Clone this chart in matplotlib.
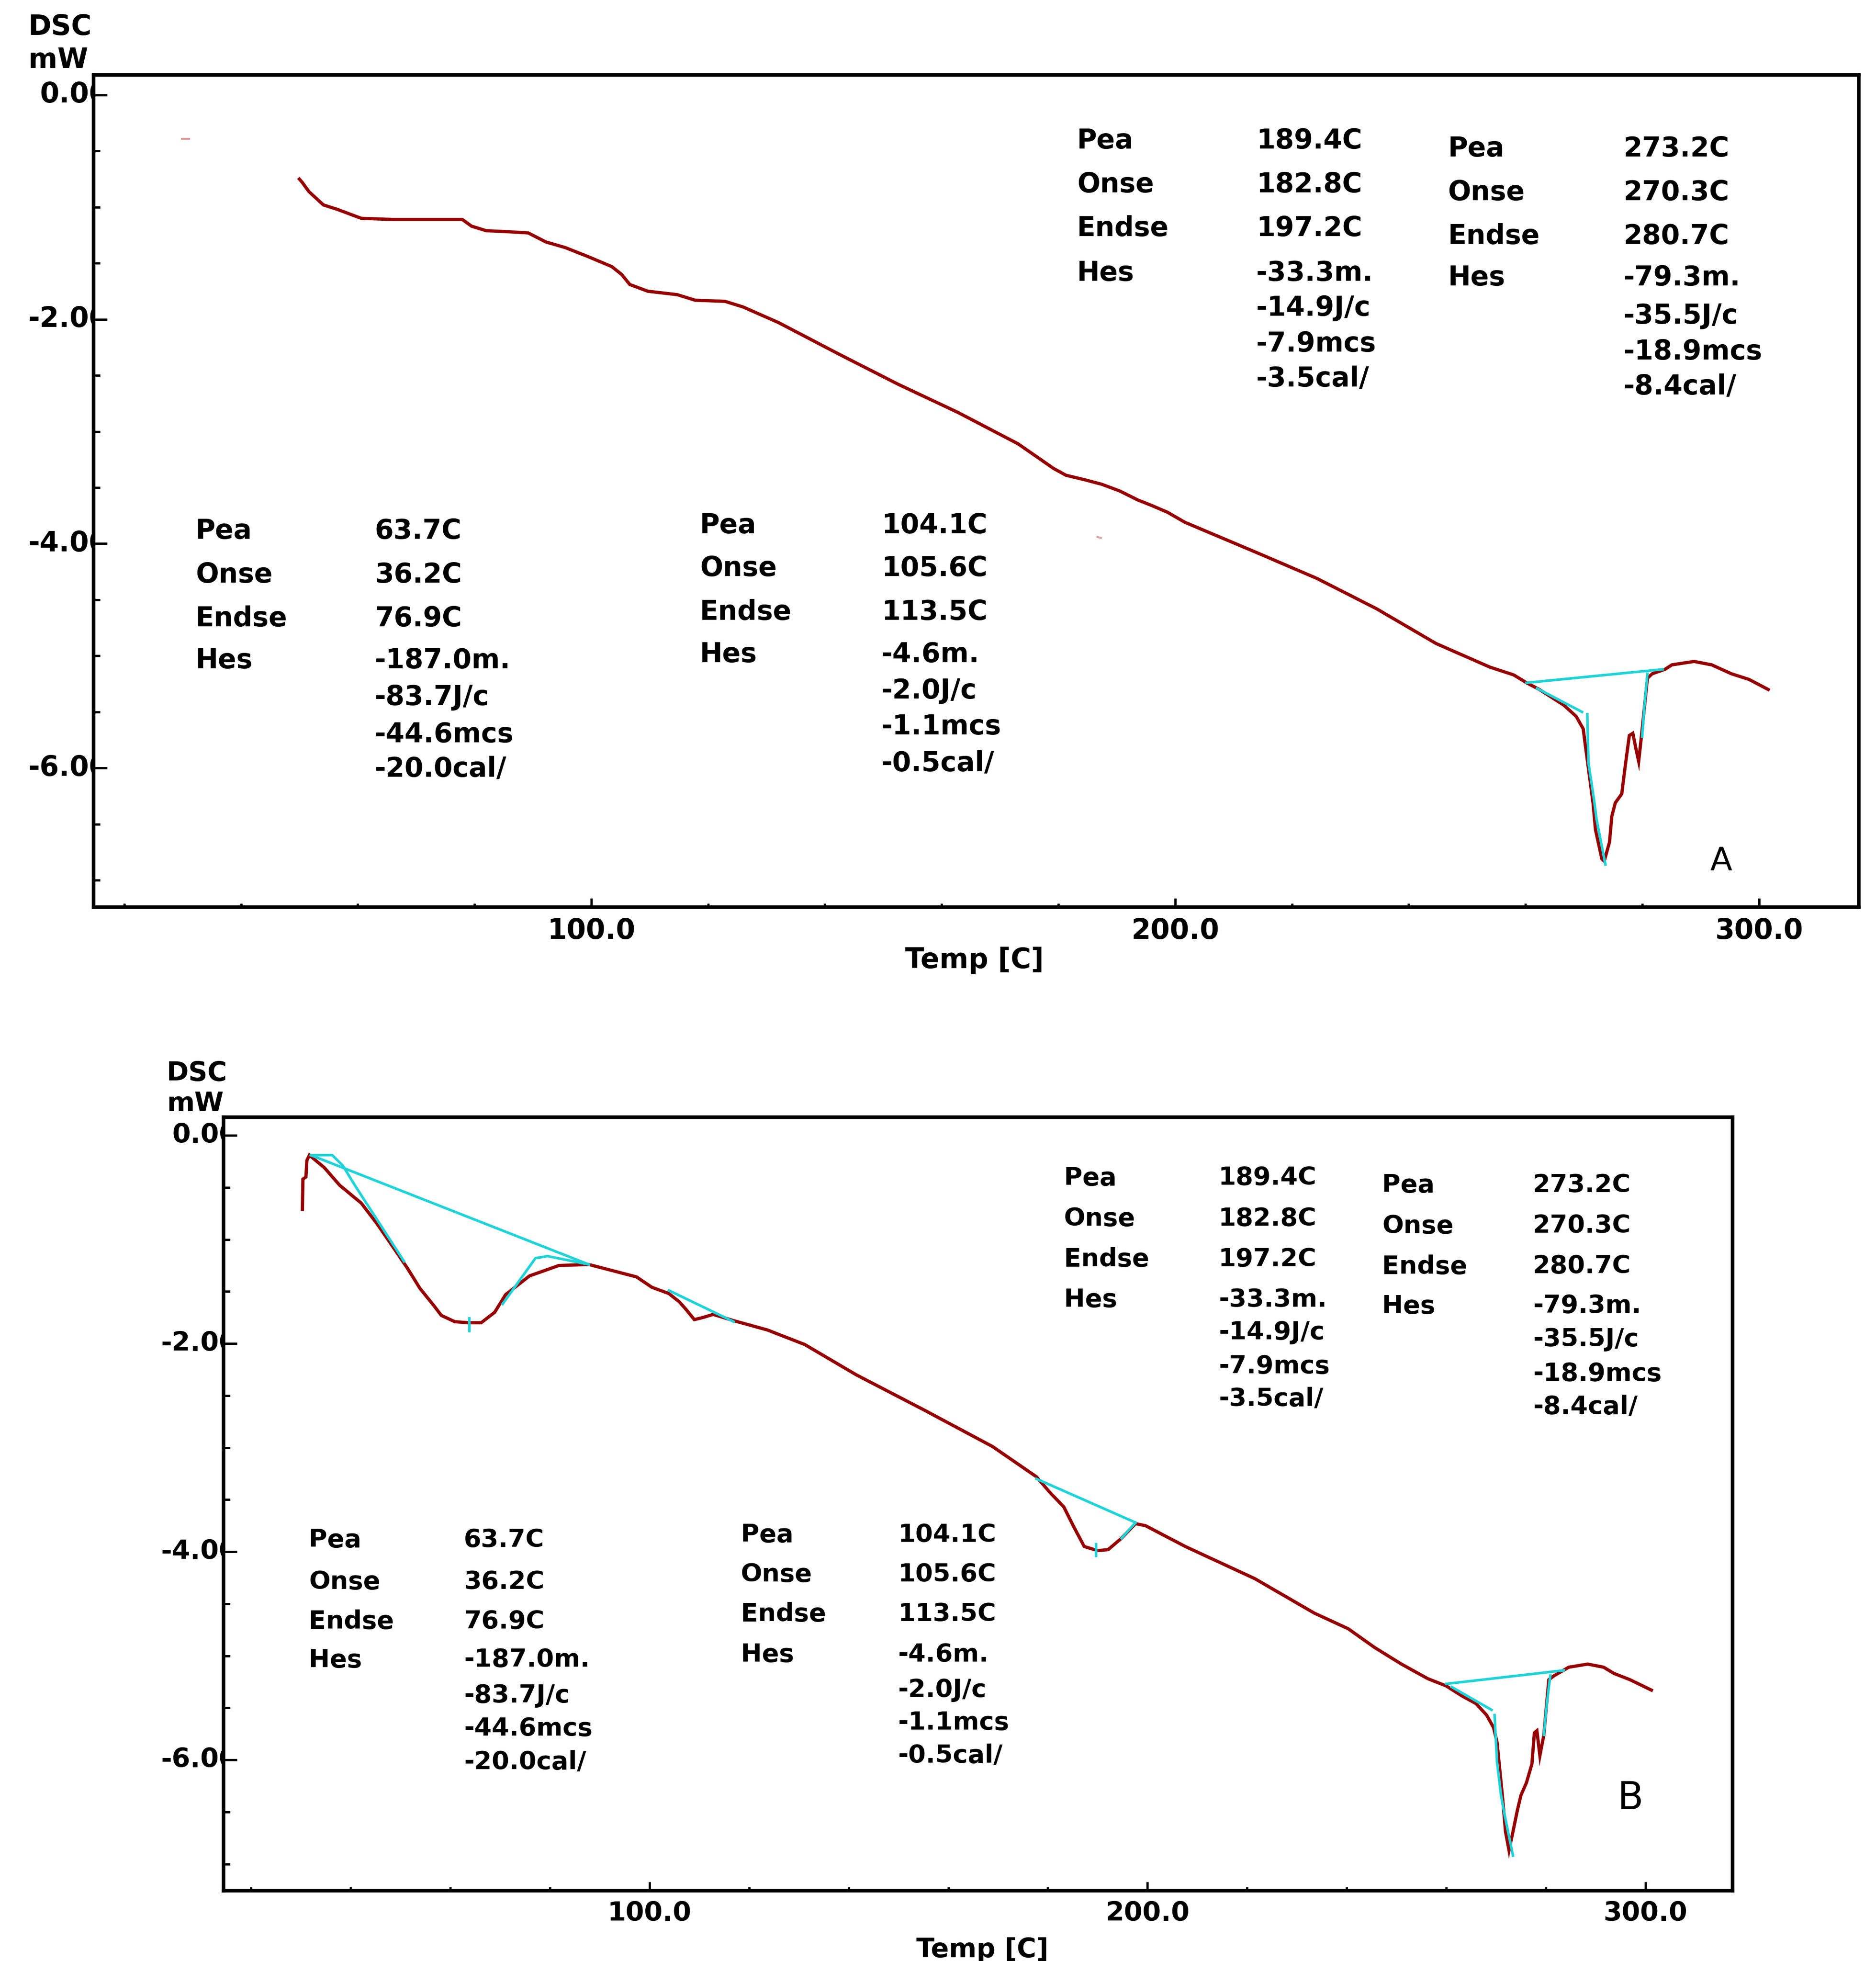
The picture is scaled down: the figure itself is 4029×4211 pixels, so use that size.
import matplotlib
matplotlib.use("Agg")
import matplotlib.pyplot as plt
from matplotlib.transforms import Bbox, TransformedBbox, blended_transform_factory, ScaledTranslation
from matplotlib.ticker import FixedLocator

# ---------------- data ----------------
# Panel A : DSC trace (Temp [C], mW)
A_T = [50.0, 50.5, 51.6, 54.1, 56.5, 60.6, 66.0, 72.0, 77.9, 79.5, 82.0, 86.0, 89.2, 92.2, 95.5,
       99.4, 103.5, 105.2, 106.6, 109.7, 114.7, 117.8, 122.9, 126.0, 132.1, 142.4, 152.6, 162.8,
       173.1, 179.2, 181.3, 184.5, 187.4, 190.5, 193.6, 196.0, 198.7, 201.7, 214.0, 224.3, 234.5,
       244.7, 253.9, 258.0, 260.2, 262.4, 266.6, 268.7, 269.9, 270.3, 271.6, 272.0, 273.1, 273.5,
       274.4, 274.8, 275.4, 276.5, 277.1, 277.8, 278.4, 278.9, 279.4, 279.8, 280.9, 281.7, 283.9,
       285.1, 288.9, 291.9, 295.3, 298.3, 301.6]
A_mW = [-0.75, -0.78, -0.86, -0.98, -1.02, -1.10, -1.11, -1.11, -1.11, -1.17, -1.21, -1.22, -1.23,
        -1.31, -1.36, -1.44, -1.53, -1.60, -1.69, -1.75, -1.78, -1.83, -1.84, -1.89, -2.03, -2.31,
        -2.58, -2.83, -3.11, -3.33, -3.39, -3.43, -3.47, -3.53, -3.61, -3.66, -3.72, -3.81, -4.08,
        -4.31, -4.58, -4.89, -5.10, -5.17, -5.24, -5.30, -5.44, -5.54, -5.65, -5.81, -6.32, -6.55,
        -6.81, -6.83, -6.66, -6.43, -6.31, -6.23, -5.98, -5.71, -5.69, -5.82, -5.94, -5.75, -5.20,
        -5.16, -5.12, -5.08, -5.05, -5.08, -5.16, -5.21, -5.30]

# Panel A : analysis (cyan) lines
A_base_T, A_base_mW = [260.2, 283.5], [-5.24, -5.12]
A_tan_T, A_tan_mW = [262.0, 269.7], [-5.29, -5.50]
A_lead_T, A_lead_mW = [270.6, 270.8, 271.8, 272.2, 273.7], [-5.52, -5.95, -6.30, -6.46, -6.86]
A_trail_T, A_trail_mW = [280.0, 280.4, 280.9], [-5.72, -5.44, -5.16]
A_stray1_T, A_stray1_mW = [29.9, 31.1], [-0.39, -0.39]
A_stray2_T, A_stray2_mW = [186.7, 187.3], [-3.94, -3.95]

# Panel B : DSC trace
B_T = [30.3, 30.4, 31.0, 31.2, 31.7, 34.7, 37.8, 42.1, 45.3, 48.6, 51.3, 53.9, 56.6, 58.2, 60.9,
       63.6, 66.2, 68.9, 71.1, 75.9, 81.8, 87.8, 97.4, 100.5, 103.9, 106.0, 107.3, 109.0, 110.7,
       112.8, 116.9, 123.7, 131.2, 141.5, 155.2, 168.9, 177.7, 180.4, 183.2, 185.3, 187.3, 190.0,
       192.1, 194.8, 197.6, 199.6, 207.6, 221.6, 233.5, 240.3, 245.6, 251.0, 256.3, 260.0, 263.3,
       266.0, 268.1, 269.5, 270.2, 271.3, 271.9, 272.6, 273.4, 274.3, 275.0, 276.1, 277.2, 277.7,
       278.2, 278.8, 279.6, 280.6, 281.7, 284.6, 288.4, 291.6, 293.7, 296.9, 301.2]
B_mW = [-0.71, -0.42, -0.40, -0.24, -0.19, -0.31, -0.48, -0.65, -0.85, -1.08, -1.27, -1.47, -1.63,
        -1.73, -1.79, -1.80, -1.80, -1.70, -1.53, -1.35, -1.25, -1.24, -1.36, -1.46, -1.52, -1.60,
        -1.67, -1.77, -1.75, -1.72, -1.78, -1.87, -2.01, -2.30, -2.64, -2.99, -3.28, -3.43, -3.57,
        -3.77, -3.95, -3.99, -3.98, -3.87, -3.73, -3.75, -3.95, -4.26, -4.59, -4.74, -4.92, -5.08,
        -5.22, -5.29, -5.39, -5.46, -5.57, -5.69, -5.83, -6.36, -6.69, -6.87, -6.69, -6.48, -6.34,
        -6.22, -6.04, -5.74, -5.72, -5.96, -5.76, -5.23, -5.19, -5.11, -5.08, -5.11, -5.17, -5.23,
        -5.33]

# Panel B : analysis (cyan) lines
B_p1_base_T, B_p1_base_mW = [32.0, 87.8], [-0.19, -1.24]
B_p1_lead_T, B_p1_lead_mW = [32.0, 36.3, 38.4, 41.1, 50.7], [-0.19, -0.19, -0.29, -0.50, -1.21]
B_p1_min_T, B_p1_min_mW = [63.8, 63.8], [-1.76, -1.88]
B_p1_trail_T, B_p1_trail_mW = [70.5, 77.1, 79.5, 87.8], [-1.62, -1.18, -1.16, -1.24]
B_p2_base_T, B_p2_base_mW = [103.9, 116.9], [-1.49, -1.79]
B_p3_base_T, B_p3_base_mW = [177.7, 197.6], [-3.30, -3.72]
B_p3_trail_T, B_p3_trail_mW = [194.8, 197.6], [-3.87, -3.72]
B_p3_min_T, B_p3_min_mW = [189.7, 189.7], [-3.93, -4.04]
B_p4_base_T, B_p4_base_mW = [260.0, 283.6], [-5.27, -5.14]
B_p4_tan_T, B_p4_tan_mW = [261.1, 269.1], [-5.30, -5.52]
B_p4_lead_T, B_p4_lead_mW = [269.7, 270.2, 271.0, 271.6, 273.4], [-5.57, -6.02, -6.34, -6.50, -6.92]
B_p4_trail_T, B_p4_trail_mW = [279.6, 280.2, 280.9], [-5.76, -5.46, -5.19]

# tick values / labels
x_major = [100.0, 200.0, 300.0]
x_major_labels = ["100.0", "200.0", "300.0"]
x_minor = [20, 40, 60, 80, 120, 140, 160, 180, 220, 240, 260, 280]
y_major = [0.0, -2.0, -4.0, -6.0]
y_major_labels = ["0.00", "-2.00", "-4.00", "-6.00"]
y_minor = [-0.5, -1.0, -1.5, -2.5, -3.0, -3.5, -4.5, -5.0, -5.5, -6.5, -7.0]

# peak annotation tables
row_labels = ["Pea", "Onse", "Endse", "Hes"]
peak1_vals = ["63.7C", "36.2C", "76.9C", "-187.0m.", "-83.7J/c", "-44.6mcs", "-20.0cal/"]
peak2_vals = ["104.1C", "105.6C", "113.5C", "-4.6m.", "-2.0J/c", "-1.1mcs", "-0.5cal/"]
peak3_vals = ["189.4C", "182.8C", "197.2C", "-33.3m.", "-14.9J/c", "-7.9mcs", "-3.5cal/"]
peak4_vals = ["273.2C", "270.3C", "280.7C", "-79.3m.", "-35.5J/c", "-18.9mcs", "-8.4cal/"]

# ---------------- figure ----------------
W, H = 4030, 4211
DPI = 100
fig = plt.figure(figsize=(W / DPI, H / DPI), dpi=DPI)
fig.patch.set_facecolor("white")

RED = "#960000"
CYAN = "#1fd3d8"
FONT = "DejaVu Sans"
WT = "bold"


def px_axes(l, t, r, b):
    return fig.add_axes([l / W, 1 - b / H, (r - l) / W, (b - t) / H])


def style_axes(ax, xlim, ylim, fs_tick, ylab_offset_pt):
    ax.set_xlim(*xlim)
    ax.set_ylim(*ylim)
    for s in ax.spines.values():
        s.set_linewidth(5.5)
        s.set_color("black")
    ax.xaxis.set_major_locator(FixedLocator(x_major))
    ax.xaxis.set_minor_locator(FixedLocator(x_minor))
    ax.yaxis.set_major_locator(FixedLocator(y_major))
    ax.yaxis.set_minor_locator(FixedLocator(y_minor))
    ax.set_xticklabels(x_major_labels, fontsize=fs_tick, family=FONT, fontweight=WT)
    ax.tick_params(axis="x", which="major", direction="in", length=14, width=3.5, pad=16,
                   top=False, bottom=True)
    ax.tick_params(axis="x", which="minor", direction="in", length=6, width=3.5,
                   top=False, bottom=True)
    ax.tick_params(axis="y", which="major", direction="in", length=21, width=3.5,
                   left=True, right=False, labelleft=False)
    ax.tick_params(axis="y", which="minor", direction="in", length=10, width=3.5,
                   left=True, right=False)
    # y tick labels whose last digit is hidden by the axis line
    clip = TransformedBbox(Bbox([[-5, -5], [0, 5]]), ax.transAxes)
    trans = blended_transform_factory(ax.transAxes, ax.transData) + \
        ScaledTranslation(ylab_offset_pt / 72, 0, fig.dpi_scale_trans)
    for v, s in zip(y_major, y_major_labels):
        t = fig.text(0, v, s, transform=trans, ha="right", va="center",
                     fontsize=fs_tick, family=FONT, fontweight=WT)
        t.set_clip_box(clip)
        t.set_clip_on(True)


def table(ax, x_lab, x_val, y_rows, y_extra, vals, fs):
    for lab, y in zip(row_labels, y_rows):
        ax.text(x_lab, y, lab, ha="left", va="center", fontsize=fs, family=FONT, fontweight=WT)
    ys = list(y_rows) + list(y_extra)
    for v, y in zip(vals, ys):
        ax.text(x_val, y, v, ha="left", va="center", fontsize=fs, family=FONT, fontweight=WT)


# ---------------- panel A ----------------
axA = px_axes(201, 161, 3992, 1948)
style_axes(axA, (14.75, 317.1), (-7.24, 0.178), 43, 23)
axA.plot(A_T, A_mW, color=RED, lw=5.0, solid_joinstyle="miter", zorder=3)
for tt, yy in [(A_base_T, A_base_mW), (A_tan_T, A_tan_mW), (A_lead_T, A_lead_mW),
               (A_trail_T, A_trail_mW)]:
    axA.plot(tt, yy, color=CYAN, lw=4.0, zorder=4)
axA.plot(A_stray1_T, A_stray1_mW, color="#d89090", lw=3, zorder=2)
axA.plot(A_stray2_T, A_stray2_mW, color="#e0a0a0", lw=3, zorder=2)

fsA = 42
table(axA, 32.2, 62.9, [-3.89, -4.28, -4.67, -5.04], [-5.37, -5.70, -6.01], peak1_vals, fsA)
table(axA, 118.6, 149.7, [-3.84, -4.22, -4.61, -4.99], [-5.31, -5.63, -5.96], peak2_vals, fsA)
table(axA, 183.2, 213.9, [-0.41, -0.80, -1.19, -1.59], [-1.90, -2.22, -2.53], peak3_vals, fsA)
table(axA, 246.7, 276.8, [-0.48, -0.87, -1.26, -1.63], [-1.97, -2.29, -2.60], peak4_vals, fsA)
axA.text(293.5, -6.83, "A", ha="center", va="center", fontsize=50, family=FONT)
axA.text(0.499, -0.064, "Temp [C]", transform=axA.transAxes, ha="center", va="center",
         fontsize=43, family=FONT, fontweight=WT)
fig.text(61 / W, 1 - 59 / H, "DSC", ha="left", va="center", fontsize=43, family=FONT,
         fontweight=WT)
fig.text(61 / W, 1 - 129 / H, "mW", ha="left", va="center", fontsize=43, family=FONT,
         fontweight=WT)

# ---------------- panel B ----------------
axB = px_axes(480, 2399, 3721, 4060)
style_axes(axB, (14.45, 317.5), (-7.257, 0.175), 41, 22)
axB.plot(B_T, B_mW, color=RED, lw=5.0, solid_joinstyle="miter", zorder=3)
for tt, yy in [(B_p1_base_T, B_p1_base_mW), (B_p1_lead_T, B_p1_lead_mW),
               (B_p1_min_T, B_p1_min_mW), (B_p1_trail_T, B_p1_trail_mW),
               (B_p2_base_T, B_p2_base_mW), (B_p3_base_T, B_p3_base_mW),
               (B_p3_trail_T, B_p3_trail_mW), (B_p3_min_T, B_p3_min_mW),
               (B_p4_base_T, B_p4_base_mW), (B_p4_tan_T, B_p4_tan_mW),
               (B_p4_lead_T, B_p4_lead_mW), (B_p4_trail_T, B_p4_trail_mW)]:
    axB.plot(tt, yy, color=CYAN, lw=4.0, zorder=4)

fsB = 39
table(axB, 31.6, 62.7, [-3.89, -4.29, -4.67, -5.04], [-5.38, -5.70, -6.02], peak1_vals, fsB)
table(axB, 118.3, 149.9, [-3.84, -4.22, -4.60, -4.99], [-5.33, -5.64, -5.96], peak2_vals, fsB)
table(axB, 183.2, 214.3, [-0.41, -0.80, -1.19, -1.58], [-1.89, -2.22, -2.53], peak3_vals, fsB)
table(axB, 247.1, 277.4, [-0.48, -0.87, -1.26, -1.64], [-1.96, -2.29, -2.61], peak4_vals, fsB)
axB.text(297.0, -6.37, "B", ha="center", va="center", fontsize=62, family="Roboto")
axB.text(0.503, -0.0765, "Temp [C]", transform=axB.transAxes, ha="center", va="center",
         fontsize=41, family=FONT, fontweight=WT)
fig.text(358 / W, 1 - 2305 / H, "DSC", ha="left", va="center", fontsize=41, family=FONT,
         fontweight=WT)
fig.text(358 / W, 1 - 2371 / H, "mW", ha="left", va="center", fontsize=41, family=FONT,
         fontweight=WT)

fig.savefig("out.png", dpi=DPI, facecolor="white")
